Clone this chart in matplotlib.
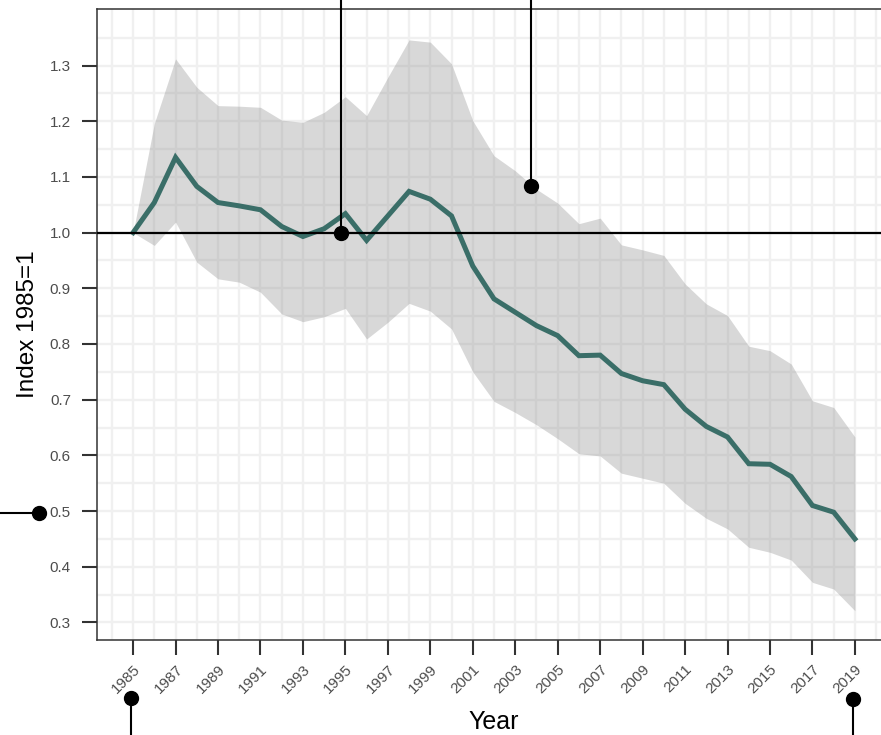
import matplotlib
matplotlib.use("Agg")
import matplotlib.pyplot as plt
import numpy as np

years = list(range(1985, 2020))
index_mean = [1.000, 1.054, 1.135, 1.083, 1.054, 1.048, 1.041, 1.011, 0.993, 1.007,
              1.034, 0.986, 1.030, 1.074, 1.060, 1.030, 0.940, 0.881, 0.857, 0.833,
              0.815, 0.779, 0.780, 0.747, 0.734, 0.727, 0.683, 0.652, 0.633, 0.585,
              0.584, 0.562, 0.510, 0.498, 0.450]
index_upper = [1.000, 1.196, 1.312, 1.261, 1.228, 1.227, 1.225, 1.202, 1.198, 1.216,
               1.244, 1.210, 1.279, 1.346, 1.342, 1.303, 1.201, 1.138, 1.111, 1.078,
               1.053, 1.016, 1.026, 0.978, 0.969, 0.959, 0.908, 0.872, 0.851, 0.796,
               0.788, 0.764, 0.698, 0.686, 0.633]
index_lower = [1.000, 0.977, 1.019, 0.947, 0.917, 0.911, 0.893, 0.854, 0.840, 0.849,
               0.864, 0.809, 0.839, 0.873, 0.859, 0.827, 0.750, 0.697, 0.677, 0.655,
               0.630, 0.603, 0.599, 0.568, 0.559, 0.550, 0.514, 0.487, 0.468, 0.435,
               0.426, 0.412, 0.372, 0.360, 0.321]

# annotation pins: (x, y, direction)
pin_x = [1994.8, 2003.75, 1980.55, 1984.9, 2018.9]
pin_y = [1.000, 1.083, 0.496, 0.165, 0.163]
pin_dir = ["up", "up", "left", "down", "down"]

x_ticks = list(range(1985, 2020, 2))
y_ticks = [0.3, 0.4, 0.5, 0.6, 0.7, 0.8, 0.9, 1.0, 1.1, 1.2, 1.3]

plt.rcParams['font.family'] = ['Liberation Sans', 'DejaVu Sans']

fig = plt.figure(figsize=(8.81, 7.35), dpi=100)
ax = fig.add_axes([97/881, 95/735, (891-97)/881, (640-9)/735])

ax.set_xlim(1983.3, 2020.7)
ax.set_ylim(0.2685, 1.4015)

# grid every year / every 0.05
for gx in range(1984, 2021):
    ax.axvline(gx, color='#F0F0F0', lw=1.7, zorder=0)
for gy in np.arange(0.30, 1.351, 0.05):
    ax.axhline(gy, color='#F0F0F0', lw=1.7, zorder=0)

ax.fill_between(years, index_lower, index_upper, color='#808080', alpha=0.3, lw=0, zorder=1)
ax.plot(years, index_mean, color='#3A6E68', lw=3.6, zorder=3, solid_joinstyle='miter')
ax.axhline(1.0, color='black', lw=1.6, zorder=4)

for px, py, d in zip(pin_x, pin_y, pin_dir):
    if d == "up":
        xs, ys = [px, px], [py, 2.0]
    elif d == "down":
        xs, ys = [px, px], [py, -1.0]
    else:
        xs, ys = [px, 1960], [py, py]
    ax.plot(xs, ys, color='black', lw=1.5, clip_on=False, zorder=5)
    ax.plot([px], [py], 'o', color='black', ms=10, clip_on=False, zorder=6)

ax.set_xticks(x_ticks)
ax.set_xticklabels([str(y) for y in x_ticks], rotation=45, ha='right', va='top',
                   rotation_mode='anchor', fontsize=11, color='#4D4D4D')
ax.set_yticks(y_ticks)
ax.set_yticklabels([f"{v:.1f}" for v in y_ticks], fontsize=11, color='#4D4D4D')
ax.tick_params(axis='both', length=10.8, width=1.5, color='#333333')
ax.tick_params(axis='y', pad=8)
ax.tick_params(axis='x', pad=5)

for s in ax.spines.values():
    s.set_color('#333333')
    s.set_linewidth(1.1)

ax.set_xlabel('Year', fontsize=18, labelpad=10)
ax.set_ylabel('Index 1985=1', fontsize=17.5, labelpad=8)

fig.savefig('out.png', dpi=100)
